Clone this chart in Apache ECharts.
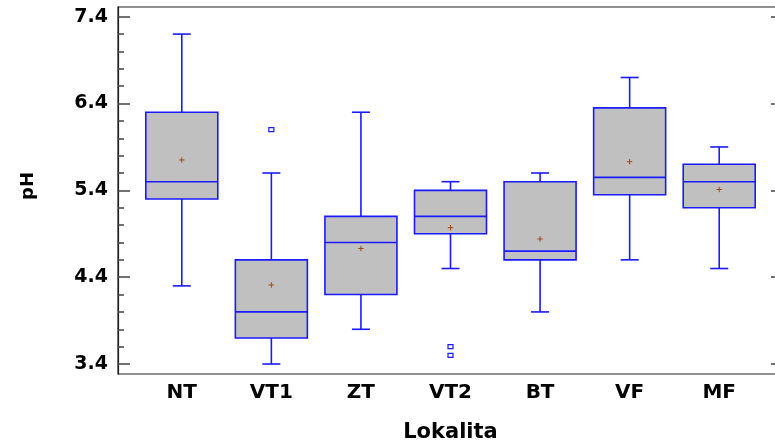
<!DOCTYPE html>
<html>
<head>
<meta charset="utf-8">
<script src="https://cdn.jsdelivr.net/npm/echarts@6/dist/echarts.min.js"></script>
<style>html,body{margin:0;padding:0;background:#fff}#c{width:775px;height:444px}</style>
</head>
<body>
<div id="c"></div>
<script>
// ---- data ----
var categories = ['NT', 'VT1', 'ZT', 'VT2', 'BT', 'VF', 'MF'];
var lowWhisker = [4.30, 3.40, 3.80, 4.50, 4.00, 4.60, 4.50];
var q1Values   = [5.30, 3.70, 4.20, 4.90, 4.60, 5.35, 5.20];
var medians    = [5.50, 4.00, 4.80, 5.10, 4.70, 5.55, 5.50];
var q3Values   = [6.30, 4.60, 5.10, 5.40, 5.50, 6.35, 5.70];
var highWhisker= [7.20, 5.60, 6.30, 5.50, 5.60, 6.70, 5.90];
var means      = [5.75, 4.31, 4.73, 4.97, 4.84, 5.73, 5.41];
var outliers   = [[1, 6.10], [3, 3.60], [3, 3.50]];
var yTickLabels = ['3.4', '4.4', '5.4', '6.4', '7.4'];
var yMinorTicks = ['3.6','3.8','4.0','4.2','4.6','4.8','5.0','5.2','5.6','5.8','6.0','6.2','6.6','6.8','7.0','7.2'];
var yMin = 3.285, yMax = 7.512;

var majorVals = yTickLabels.map(Number);
var minorVals = yMinorTicks.map(Number);

var boxData = categories.map(function (c, i) {
  return [i, lowWhisker[i], q1Values[i], medians[i], q3Values[i], highWhisker[i], means[i]];
});

var BLUE = '#1a1aff';
var FONT = '"DejaVu Sans", Verdana, sans-serif';

function renderBox(params, api) {
  var i = api.value(0);
  var pLow = api.coord([i, api.value(1)]);
  var pQ1 = api.coord([i, api.value(2)]);
  var pMed = api.coord([i, api.value(3)]);
  var pQ3 = api.coord([i, api.value(4)]);
  var pHigh = api.coord([i, api.value(5)]);
  var pMean = api.coord([i, api.value(6)]);
  var x = pQ1[0];
  var hw = 36, cw = 9, mw = 2.7;
  var ls = { stroke: BLUE, lineWidth: 1.6, fill: null };
  return {
    type: 'group',
    children: [
      { type: 'line', shape: { x1: x, y1: pHigh[1], x2: x, y2: pQ3[1] }, style: ls },
      { type: 'line', shape: { x1: x, y1: pLow[1], x2: x, y2: pQ1[1] }, style: ls },
      { type: 'line', shape: { x1: x - cw, y1: pHigh[1], x2: x + cw, y2: pHigh[1] }, style: ls },
      { type: 'line', shape: { x1: x - cw, y1: pLow[1], x2: x + cw, y2: pLow[1] }, style: ls },
      { type: 'rect', shape: { x: x - hw, y: pQ3[1], width: 2 * hw, height: pQ1[1] - pQ3[1] },
        style: { fill: '#c0c0c0', stroke: BLUE, lineWidth: 1.6 } },
      { type: 'line', shape: { x1: x - hw, y1: pMed[1], x2: x + hw, y2: pMed[1] }, style: ls },
      { type: 'line', shape: { x1: x - mw, y1: pMean[1], x2: x + mw, y2: pMean[1] }, style: { stroke: '#9a4a1a', lineWidth: 1 } },
      { type: 'line', shape: { x1: x, y1: pMean[1] - mw, x2: x, y2: pMean[1] + mw }, style: { stroke: '#9a4a1a', lineWidth: 1 } }
    ]
  };
}

function renderOutlier(params, api) {
  var p = api.coord([api.value(0), api.value(1)]);
  return { type: 'rect', shape: { x: p[0] - 2.5, y: p[1] - 2, width: 5, height: 4 },
    style: { fill: '#fff', stroke: BLUE, lineWidth: 1.2 } };
}

var chart = echarts.init(document.getElementById('c'));
chart.setOption({
  animation: false,
  backgroundColor: '#fff',
  grid: [
    { left: 118, top: 7, width: 659, height: 367, show: true, borderColor: '#222', borderWidth: 1.2,
      backgroundColor: 'transparent', containLabel: false, outerBoundsMode: 'none' },
    { left: 137, top: 7, width: 627, height: 367, containLabel: false, outerBoundsMode: 'none' }
  ],
  xAxis: [
    { type: 'value', gridIndex: 0, show: false, min: 0, max: 1 },
    { type: 'category', gridIndex: 1, data: categories, boundaryGap: true,
      axisLine: { show: false }, axisTick: { show: false }, splitLine: { show: false },
      axisLabel: { color: '#000', fontFamily: FONT, fontWeight: 'bold', fontSize: 20, margin: 9 },
      name: 'Lokalita', nameLocation: 'middle', nameGap: 48,
      nameTextStyle: { color: '#000', fontFamily: FONT, fontWeight: 'bold', fontSize: 21 } }
  ],
  yAxis: [
    { type: 'value', gridIndex: 0, position: 'left', min: yMin, max: yMax,
      axisLine: { show: true, lineStyle: { color: '#222', width: 1.2 } },
      axisTick: { show: true, inside: true, length: 12, customValues: majorVals, lineStyle: { color: '#444', width: 1.5 } },
      axisLabel: { show: true, customValues: majorVals, margin: 10, color: '#000', fontFamily: FONT, fontWeight: 'bold', fontSize: 19,
        formatter: function (v) { return yTickLabels[majorVals.indexOf(Math.round(v * 10) / 10)] || v.toFixed(1); } },
      splitLine: { show: false },
      name: 'pH', nameLocation: 'middle', nameGap: 81, nameRotate: 90,
      nameTextStyle: { color: '#000', fontFamily: FONT, fontWeight: 'bold', fontSize: 18, padding: [0, 0, 0, 9] } },
    { type: 'value', gridIndex: 0, position: 'left', min: yMin, max: yMax,
      axisLine: { show: false },
      axisTick: { show: true, inside: true, length: 6, customValues: minorVals, lineStyle: { color: '#444', width: 1.5 } },
      axisLabel: { show: false }, splitLine: { show: false } },
    { type: 'value', gridIndex: 0, position: 'right', min: yMin, max: yMax,
      axisLine: { show: true, lineStyle: { color: '#222', width: 1.2 } },
      axisTick: { show: true, inside: true, length: 6, customValues: majorVals, lineStyle: { color: '#444', width: 1.5 } },
      axisLabel: { show: false }, splitLine: { show: false } },
    { type: 'value', gridIndex: 1, min: yMin, max: yMax, show: false, splitLine: { show: false } }
  ],
  series: [
    { type: 'custom', xAxisIndex: 1, yAxisIndex: 3, renderItem: renderBox, data: boxData, z: 5 },
    { type: 'custom', xAxisIndex: 1, yAxisIndex: 3, renderItem: renderOutlier, data: outliers, z: 6 }
  ]
});
</script>
</body>
</html>
